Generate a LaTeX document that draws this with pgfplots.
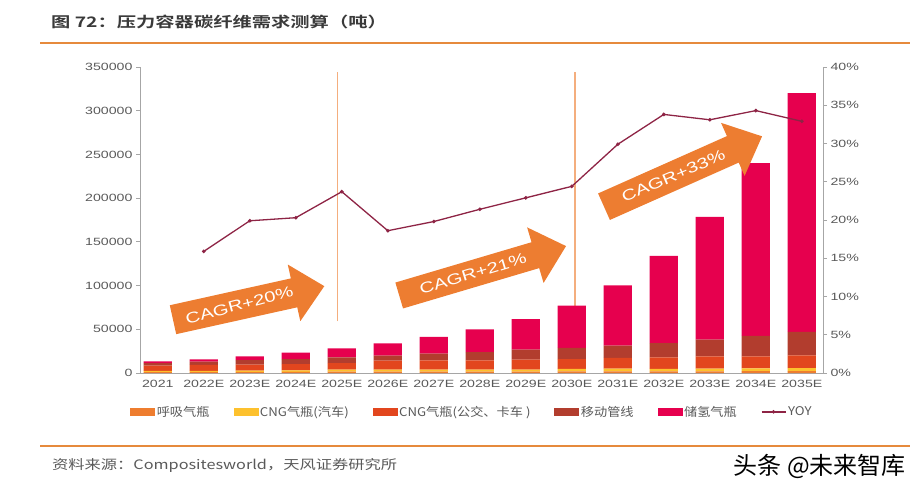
\documentclass[border=0pt]{standalone}
\usepackage{pgfplots}
\usepackage{pgfplotstable}
\pgfplotsset{compat=1.18}
\usepackage{fontspec}
\setmainfont{Liberation Sans}
\newfontfamily\tickfont{Liberation Sans}[FakeStretch=1.35]
\newfontfamily\cjk{Noto Sans CJK SC}[FakeStretch=1.1]
\newfontfamily\cjksrc{Noto Sans CJK SC}[FakeStretch=1.25]
\newfontfamily\cjktitle{Noto Sans CJK SC Bold}[FakeStretch=1.33]
\newfontfamily\cjkwm{Noto Sans CJK SC}

\definecolor{cOrange}{HTML}{EE7D2F}
\definecolor{cYellow}{HTML}{FDC12E}
\definecolor{cRed}{HTML}{E2461E}
\definecolor{cBrown}{HTML}{B23D2E}
\definecolor{cPink}{HTML}{E6004E}
\definecolor{cYoy}{HTML}{8E2445}
\definecolor{cRule}{HTML}{E68A3C}
\definecolor{cArrow}{HTML}{ED7D31}
\definecolor{cVline}{HTML}{F4AE7E}
\definecolor{cAxis}{HTML}{A6A6A6}
\definecolor{cTick}{HTML}{595959}
\definecolor{cTitle}{HTML}{3A3A3A}

\pgfplotstableread{
x breath cngcar cngbus pipe h2
0  900 1400  6100  3000   2000
1  900 1400  6900  3800   2700
2 1100 1600  6900  5000   4500
3 1200 1800  7200  5700   7400
4 1500 2300  7600  6500  10300
5 1500 2300 10300  5700  14200
6 1500 2300 10700  7600  19100
7 1500 2300 10700  9500  26000
8 1500 2300 11400 11400  34900
9 1800 2800 11400 12600  48600
10 2000 3000 12200 14100  68800
11 1800 2800 13300 16400  99700
12 2000 3000 14100 19100 140300
13 2100 3200 13700 23600 197400
14 2200 3500 14500 26700 273100
}\bars

\pgfplotstableread{
x yoy
1 15.9
2 19.9
3 20.3
4 23.7
5 18.6
6 19.8
7 21.4
8 22.9
9 24.4
10 29.9
11 33.8
12 33.1
13 34.3
14 32.9
}\yoy

\pgfplotsset{
  myax/.style={scale only axis, width=683pt, height=306pt,
    at={(140pt,125pt)}, anchor=south west,
    xmin=-0.387, xmax=14.46, clip=false,
    axis line style={cAxis, line width=0.8pt},
    tick align=outside, major tick length=4pt,
    tick label style={font=\tickfont\fontsize{10.5}{12}\selectfont, text=cTick},
  },
}

\begin{document}
\begin{tikzpicture}
\path[use as bounding box] (0,0) rectangle (917pt,498pt);

\begin{axis}[myax,
  ybar stacked, bar width=0.615,
  ymin=0, ymax=350000, ytick={0,50000,...,350000}, scaled y ticks=false,
  yticklabels={0,50000,100000,150000,200000,250000,300000,350000},
  axis x line*=bottom, axis y line*=left,
  xtick={0,...,14},
  xticklabels={2021,2022E,2023E,2024E,2025E,2026E,2027E,2028E,2029E,2030E,2031E,2032E,2033E,2034E,2035E},
  major x tick style={draw=none},
  y tick style={cAxis, line width=0.8pt},
]
\addplot[fill=cOrange, draw=none] table[x=x, y=breath] {\bars};
\addplot[fill=cYellow, draw=none] table[x=x, y=cngcar] {\bars};
\addplot[fill=cRed, draw=none] table[x=x, y=cngbus] {\bars};
\addplot[fill=cBrown, draw=none] table[x=x, y=pipe] {\bars};
\addplot[fill=cPink, draw=none] table[x=x, y=h2] {\bars};
\draw[cVline, line width=1.2pt] (axis cs:3.9,59000) -- (axis cs:3.9,344000);
\draw[cVline, line width=1.2pt] (axis cs:9.07,64000) -- (axis cs:9.07,344000);
\end{axis}

\begin{axis}[myax,
  ymin=0, ymax=40, ytick={0,5,...,40},
  yticklabels={0\%,5\%,10\%,15\%,20\%,25\%,30\%,35\%,40\%},
  axis x line=none, axis y line*=right,
  y tick style={cAxis, line width=0.8pt},
  legend columns=6,
  legend style={at={(0.486,-0.127)}, anchor=center, draw=none, fill=none,
    font=\cjk\fontsize{12}{14}\selectfont, text=cTick,
    /tikz/every even column/.append style={column sep=22pt}},
]
\addlegendimage{legend image code/.code={\fill[cOrange] (0pt,-3.5pt) rectangle (24pt,3.5pt);}}
\addlegendentry{呼吸气瓶}
\addlegendimage{legend image code/.code={\fill[cYellow] (0pt,-3.5pt) rectangle (24pt,3.5pt);}}
\addlegendentry{CNG气瓶(汽车)}
\addlegendimage{legend image code/.code={\fill[cRed] (0pt,-3.5pt) rectangle (24pt,3.5pt);}}
\addlegendentry{CNG气瓶(公交、卡车 )}
\addlegendimage{legend image code/.code={\fill[cBrown] (0pt,-3.5pt) rectangle (24pt,3.5pt);}}
\addlegendentry{移动管线}
\addlegendimage{legend image code/.code={\fill[cPink] (0pt,-3.5pt) rectangle (24pt,3.5pt);}}
\addlegendentry{储氢气瓶}
\addplot[cYoy, line width=1.3pt, mark=*, mark size=1.1pt,
  legend image code/.code={\draw[cYoy, line width=1.3pt] (0pt,0pt) -- (24pt,0pt); \fill[cYoy] (12pt,0pt) circle (1pt);}]
  table[x=x, y=yoy] {\yoy};
\addlegendentry{YOY}
\end{axis}

% CAGR arrows
\begin{scope}[shift={(173pt,178.3pt)}, rotate=12.5]
\fill[cArrow] (0pt,-14.8pt) -- (124pt,-14.8pt) -- (124pt,-29pt) -- (155pt,0pt) -- (124pt,29pt) -- (124pt,14.8pt) -- (0pt,14.8pt) -- cycle;
\node[text=white, rotate=15, font=\tickfont\fontsize{15}{17}\selectfont] at (68pt,0pt) {CAGR+20\%};
\end{scope}
\begin{scope}[shift={(399.2pt,202.5pt)}, rotate=16.5]
\fill[cArrow] (0pt,-13.5pt) -- (142pt,-13.5pt) -- (142pt,-29pt) -- (174pt,0pt) -- (142pt,29pt) -- (142pt,13.5pt) -- (0pt,13.5pt) -- cycle;
\node[text=white, rotate=16.8, font=\tickfont\fontsize{15}{17}\selectfont] at (77pt,0pt) {CAGR+21\%};
\end{scope}
\begin{scope}[shift={(604pt,291.3pt)}, rotate=24]
\fill[cArrow] (0pt,-14.5pt) -- (141pt,-14.5pt) -- (141pt,-29pt) -- (173pt,0pt) -- (141pt,29pt) -- (141pt,14.5pt) -- (0pt,14.5pt) -- cycle;
\node[text=white, rotate=23, font=\tickfont\fontsize{15}{17}\selectfont] at (76pt,0pt) {CAGR+33\%};
\end{scope}

% title and rules
\node[anchor=west, inner sep=0pt, text=cTitle, font=\cjktitle\fontsize{14.5}{17}\selectfont] at (51pt,476pt) {图 72：压力容器碳纤维需求测算（吨）};
\draw[cRule, line width=2pt] (40pt,455pt) -- (910pt,455pt);
\draw[cRule, line width=2pt] (40pt,52pt) -- (910pt,52pt);
\node[anchor=west, inner sep=0pt, text=cTick, font=\cjksrc\fontsize{13}{15}\selectfont] at (52pt,33pt) {资料来源：Compositesworld，天风证券研究所};
\node[anchor=east, inner sep=0pt, text=black, font=\cjkwm\fontsize{24}{26}\selectfont] at (906pt,32pt) {头条 @未来智库};
\end{tikzpicture}
\end{document}
